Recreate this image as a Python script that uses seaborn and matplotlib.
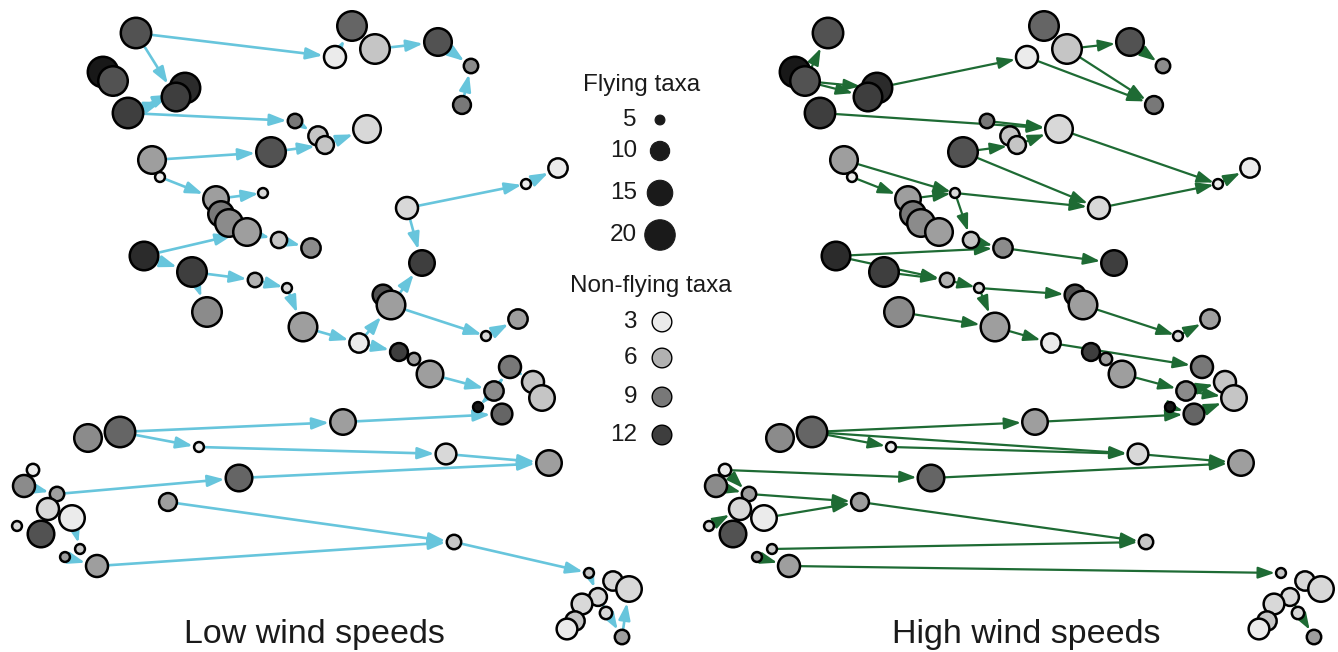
import numpy as np
import pandas as pd
import matplotlib
matplotlib.use('Agg')
import matplotlib.pyplot as plt
import seaborn as sns
from matplotlib.colors import LinearSegmentedColormap

sns.set_theme(style='white')
plt.rcParams['font.family'] = ['Liberation Sans', 'DejaVu Sans']

# node layout (same layout in both panels)
node_x = [136, 103, 113, 185, 176, 128, 335, 352, 375, 438, 471, 462, 295, 318, 325, 367,
          152, 160, 271, 216, 263, 221, 229, 247, 279, 311, 144, 192, 207, 255, 287, 303,
          526, 558, 407, 422, 383, 391, 486, 518, 359, 399, 414, 430, 510, 533, 542, 494,
          478, 502, 343, 88, 120, 199, 239, 168, 33, 24, 57, 48, 72, 17, 41, 80, 65, 97,
          446, 549, 454, 589, 613, 629, 598, 582, 606, 575, 567, 622]
node_y = [33, 72, 81, 88, 97, 113, 57, 26, 49, 42, 66, 105, 121, 136, 145, 129,
          160, 177, 152, 199, 193, 214, 223, 232, 240, 248, 256, 272, 312, 280, 288, 327,
          184, 168, 208, 263, 295, 305, 336, 319, 343, 352, 359, 374, 367, 382, 398, 391,
          407, 414, 422, 438, 432, 447, 478, 502, 470, 486, 494, 509, 518, 526, 534, 549, 557, 566,
          454, 463, 542, 573, 581, 589, 597, 604, 613, 621, 629, 637]
flying = [21, 21, 19, 20, 18, 21, 12, 19, 19, 17, 7, 9, 7, 10, 9, 17,
          17, 4, 19, 15, 4, 15, 17, 17, 8, 10, 18, 19, 19, 7, 4, 18,
          4, 10, 12, 15, 11, 18, 4, 10, 10, 9, 6, 16, 12, 12, 15, 10,
          4, 11, 15, 17, 20, 5, 16, 9, 6, 12, 7, 12, 15, 5, 16, 5, 5, 12,
          11, 15, 7, 5, 10, 15, 9, 11, 6, 10, 11, 7]
nonflying = [11, 14, 11, 13, 12, 12, 3, 10, 5, 11, 8, 9, 9, 5, 5, 4,
             7, 3, 11, 7, 4, 9, 8, 7, 5, 8, 13, 12, 8, 6, 4, 7,
             3, 3, 4, 12, 11, 7, 4, 7, 3, 12, 7, 7, 9, 5, 5, 8,
             14, 10, 7, 8, 10, 3, 10, 7, 3, 8, 7, 4, 3, 4, 11, 5, 7, 7,
             4, 7, 5, 5, 4, 4, 4, 4, 4, 5, 3, 7]

low_edges = [(0, 6), (0, 4), (5, 4), (5, 3), (1, 5), (5, 12), (12, 13), (14, 15), (16, 18),
             (18, 14), (17, 19), (19, 20), (6, 7), (8, 9), (9, 10), (11, 10), (34, 32), (32, 33),
             (26, 23), (23, 24), (24, 25), (26, 27), (27, 29), (27, 28), (29, 30), (30, 31),
             (31, 40), (34, 35), (37, 35), (40, 37), (37, 38), (38, 39), (40, 41), (41, 42),
             (43, 47), (47, 44), (47, 48), (44, 45), (52, 50), (50, 49), (52, 53), (53, 66),
             (66, 67), (58, 54), (54, 67), (55, 68), (65, 68), (68, 69), (57, 56), (57, 58),
             (60, 63), (64, 65), (69, 72), (72, 77), (77, 71)]
high_edges = [(2, 0), (2, 4), (2, 3), (3, 6), (6, 11), (8, 11), (8, 9), (9, 10), (5, 15),
              (12, 15), (14, 15), (18, 14), (18, 34), (15, 32), (32, 33), (34, 32), (16, 20),
              (17, 19), (19, 20), (20, 34), (20, 24), (26, 25), (24, 25), (25, 35), (26, 29),
              (27, 29), (29, 30), (30, 36), (30, 31), (28, 31), (37, 38), (38, 39), (31, 40),
              (40, 44), (41, 42), (43, 47), (47, 45), (47, 46), (49, 46), (48, 49), (50, 49),
              (52, 50), (52, 53), (53, 66), (52, 66), (66, 67), (54, 67), (56, 54), (56, 58),
              (57, 58), (58, 55), (60, 55), (55, 68), (61, 59), (63, 68), (64, 65), (65, 69),
              (72, 77)]

flying_levels = [5, 10, 15, 20]
nonflying_levels = [3, 6, 9, 12]
panel_titles = ['Low wind speeds', 'High wind speeds']

# scales
SIZES = (50, 480)
SIZE_NORM = (5, 20)
HUE_NORM = (3, 15)
grey_cmap = LinearSegmentedColormap.from_list('greys', ['#ebebeb', '#050505'])
grey_cmap.set_under('#ebebeb')
NODE_LW = 1.8


def marker_radius(n):
    # same linear area mapping seaborn applies with sizes/size_norm
    area = SIZES[0] + (n - SIZE_NORM[0]) / (SIZE_NORM[1] - SIZE_NORM[0]) * (SIZES[1] - SIZES[0])
    return np.sqrt(area) / 2 + NODE_LW / 2


def draw_panel(ax, edges, edge_color, edge_lw):
    nodes = pd.DataFrame({'x': node_x, 'y': node_y, 'flying': flying, 'nonflying': nonflying})
    for a, b in edges:
        ax.annotate('', xy=(node_x[b], node_y[b]), xytext=(node_x[a], node_y[a]),
                    arrowprops=dict(arrowstyle='-|>,head_length=1.0,head_width=0.35',
                                    mutation_scale=10, color=edge_color, lw=edge_lw,
                                    shrinkA=marker_radius(flying[a]),
                                    shrinkB=marker_radius(flying[b])),
                    zorder=1, annotation_clip=False)
    sns.scatterplot(data=nodes, x='x', y='y', size='flying', sizes=SIZES, size_norm=SIZE_NORM,
                    hue='nonflying', palette=grey_cmap, hue_norm=HUE_NORM,
                    edgecolor='black', linewidth=NODE_LW, legend=False, ax=ax, zorder=3,
                    clip_on=False)
    ax.set_xlim(0, 646)
    ax.set_ylim(652, 0)
    ax.set_axis_off()


fig = plt.figure(figsize=(13.38, 6.52), dpi=100)
ax_low = fig.add_axes([0, 0, 646 / 1338, 1])
ax_high = fig.add_axes([692 / 1338, 0, 646 / 1338, 1])
draw_panel(ax_low, low_edges, '#67c5dc', 1.9)
draw_panel(ax_high, high_edges, '#1e6b34', 1.6)

# legend + titles on a full-figure overlay
leg = fig.add_axes([0, 0, 1, 1])
leg.set_xlim(0, 1338)
leg.set_ylim(652, 0)
leg.set_axis_off()
leg.patch.set_alpha(0)

text_kw = dict(color='#1a1a1a', fontsize=17.5)
leg.text(642, 85, 'Flying taxa', ha='center', va='center', **text_kw)
fly_y = [120, 151, 193, 235]
sns.scatterplot(x=[660] * 4, y=fly_y, size=flying_levels, sizes=SIZES, size_norm=SIZE_NORM,
                color='#1a1a1a', edgecolor='#1a1a1a', linewidth=0.8, legend=False, ax=leg)
for lab, yy in zip(flying_levels, fly_y):
    leg.text(637, yy, str(lab), ha='right', va='center', **text_kw)

leg.text(651, 286, 'Non-flying taxa', ha='center', va='center', **text_kw)
non_y = [322, 358, 397, 435]
sns.scatterplot(x=[662] * 4, y=non_y, hue=nonflying_levels, palette=grey_cmap, hue_norm=HUE_NORM,
                s=200, edgecolor='black', linewidth=1.0, legend=False, ax=leg)
for lab, yy in zip(nonflying_levels, non_y):
    leg.text(637, yy, str(lab), ha='right', va='center', **text_kw)

leg.text(314, 634, panel_titles[0], ha='center', va='center', color='#1a1a1a', fontsize=24.5)
leg.text(1026, 634, panel_titles[1], ha='center', va='center', color='#1a1a1a', fontsize=24.5)

fig.savefig('out.png', dpi=100)
